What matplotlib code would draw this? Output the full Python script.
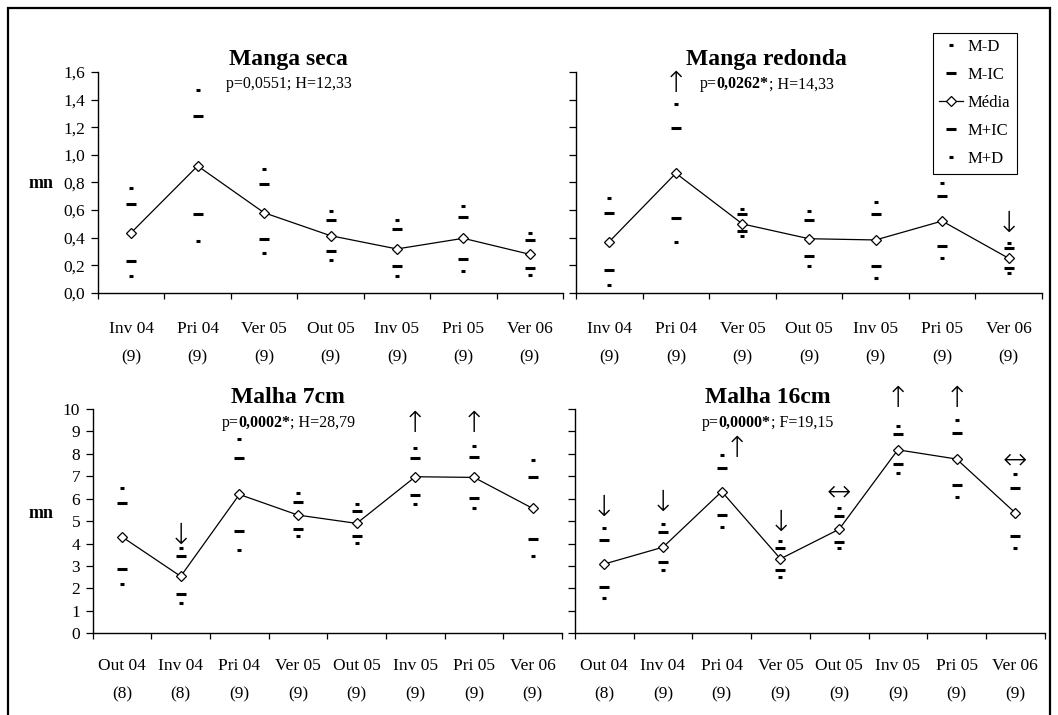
import matplotlib
matplotlib.use("Agg")
import matplotlib.pyplot as plt
from matplotlib.patches import Rectangle
from matplotlib.offsetbox import TextArea, HPacker, AnnotationBbox

plt.rcParams['font.family'] = ['Liberation Serif', 'DejaVu Serif']

# --- dados: media, intervalo de confianca (IC) e desvio (D) ---
manga_periodos = ["Inv 04", "Pri 04", "Ver 05", "Out 05", "Inv 05", "Pri 05", "Ver 06"]
manga_n = [9, 9, 9, 9, 9, 9, 9]

seca_media = [0.437, 0.92, 0.581, 0.415, 0.319, 0.396, 0.28]
seca_ic_sup = [0.644, 1.28, 0.79, 0.529, 0.463, 0.553, 0.384]
seca_ic_inf = [0.232, 0.572, 0.391, 0.304, 0.196, 0.244, 0.179]
seca_d_sup = [0.762, 1.47, 0.898, 0.596, 0.529, 0.632, 0.434]
seca_d_inf = [0.123, 0.377, 0.287, 0.239, 0.123, 0.159, 0.13]

redonda_media = [0.372, 0.867, 0.50, 0.393, 0.384, 0.521, 0.251]
redonda_ic_sup = [0.577, 1.195, 0.572, 0.526, 0.57, 0.702, 0.324]
redonda_ic_inf = [0.166, 0.541, 0.449, 0.268, 0.198, 0.34, 0.183]
redonda_d_sup = [0.69, 1.368, 0.608, 0.594, 0.661, 0.799, 0.364]
redonda_d_inf = [0.058, 0.369, 0.415, 0.196, 0.106, 0.251, 0.143]

malha_periodos = ["Out 04", "Inv 04", "Pri 04", "Ver 05", "Out 05", "Inv 05", "Pri 05", "Ver 06"]
m7_n = [8, 8, 9, 9, 9, 9, 9, 9]
m16_n = [8, 9, 9, 9, 9, 9, 9, 9]

m7_media = [4.3, 2.54, 6.19, 5.27, 4.9, 6.98, 6.95, 5.57]
m7_ic_sup = [5.82, 3.45, 7.83, 5.86, 5.45, 7.83, 7.87, 6.98]
m7_ic_inf = [2.86, 1.73, 4.57, 4.67, 4.36, 6.17, 6.04, 4.2]
m7_d_sup = [6.46, 3.81, 8.66, 6.24, 5.76, 8.24, 8.36, 7.72]
m7_d_inf = [2.22, 1.35, 3.71, 4.34, 4.03, 5.76, 5.57, 3.45]

m16_media = [3.09, 3.84, 6.32, 3.32, 4.64, 8.18, 7.77, 5.37]
m16_ic_sup = [4.18, 4.52, 7.39, 3.82, 5.25, 8.9, 8.93, 6.49]
m16_ic_inf = [2.08, 3.2, 5.28, 2.8, 4.09, 7.54, 6.62, 4.36]
m16_d_sup = [4.69, 4.89, 7.93, 4.13, 5.58, 9.22, 9.49, 7.09]
m16_d_inf = [1.59, 2.83, 4.76, 2.53, 3.79, 7.16, 6.06, 3.79]

# setas de diferenca: (indice do periodo, simbolo, altura)
seca_setas = []
redonda_setas = [(1, "↑", 1.51), (6, "↓", 0.50)]
m7_setas = [(1, "↓", 4.36), (5, "↑", 9.35), (6, "↑", 9.35)]
m16_setas = [(0, "↓", 5.58), (1, "↓", 5.8), (2.25, "↑", 8.23), (3, "↓", 4.9),
             (4, "↔", 6.26), (5, "↑", 10.45), (6, "↑", 10.45), (7, "↔", 7.69)]

# resultado do teste: partes (texto, negrito)
seca_teste = [("p=0,0551; H=12,33", False)]
redonda_teste = [("p=", False), ("0,0262*", True), ("; H=14,33", False)]
m7_teste = [("p=", False), ("0,0002*", True), ("; H=28,79", False)]
m16_teste = [("p=", False), ("0,0000*", True), ("; F=19,15", False)]

W, H = 1058, 715
fig = plt.figure(figsize=(W / 100, H / 100), dpi=100)


def px_axes(x0, y0, x1, y1):
    return fig.add_axes([x0 / W, 1 - y1 / H, (x1 - x0) / W, (y1 - y0) / H])


def painel(ax, periodos, n, media, ic_sup, ic_inf, d_sup, d_inf, setas,
           titulo, teste, ylim, yticks, ylabels, tx, ty_tit, ty_p, xpad):
    x = list(range(len(periodos)))
    ax.plot(x, d_inf, ls='none', marker='_', ms=3.0, mew=2.2, color='k', label='M-D')
    ax.plot(x, ic_inf, ls='none', marker='_', ms=7.2, mew=2.2, color='k', label='M-IC')
    ax.plot(x, media, color='k', lw=0.9, marker='D', ms=5, mfc='white', mec='k',
            mew=0.9, label='Média')
    ax.plot(x, ic_sup, ls='none', marker='_', ms=7.2, mew=2.2, color='k', label='M+IC')
    ax.plot(x, d_sup, ls='none', marker='_', ms=3.0, mew=2.2, color='k', label='M+D')

    for xi, s, yv in setas:
        ax.text(xi, yv, s, ha='center', va='center', fontsize=21, clip_on=False,
                family=['DejaVu Sans'], fontweight='light')

    ax.set_xlim(-0.5, len(periodos) - 0.5)
    ax.set_ylim(*ylim)
    ax.set_xticks([i - 0.5 for i in range(len(periodos) + 1)])
    ax.set_xticklabels([])
    ax.set_xticks(x, minor=True)
    ax.set_xticklabels([f"{p}\n({k})" for p, k in zip(periodos, n)], minor=True,
                       fontsize=12.5, linespacing=2.05)
    ax.tick_params(axis='x', which='major', direction='out', length=4, width=0.9)
    ax.tick_params(axis='x', which='minor', length=0, pad=xpad)
    ax.set_yticks(yticks)
    if ylabels:
        ax.set_yticklabels(ylabels, fontsize=12.5)
    else:
        ax.set_yticklabels([])
    ax.tick_params(axis='y', direction='out', length=5, width=0.9, pad=4)
    for side in ('top', 'right'):
        ax.spines[side].set_visible(False)
    for side in ('left', 'bottom'):
        ax.spines[side].set_linewidth(1.0)

    ax.text(tx, ty_tit, titulo, transform=ax.transAxes, ha='center', va='center',
            fontsize=17, fontweight='bold')
    partes = [TextArea(t, textprops=dict(fontsize=11.5,
                                         fontweight='bold' if b else 'normal'))
              for t, b in teste]
    caixa = HPacker(children=partes, align='baseline', pad=0, sep=0)
    ab = AnnotationBbox(caixa, (tx, ty_p), xycoords='axes fraction',
                        box_alignment=(0.5, 0.5), frameon=False, pad=0)
    ax.add_artist(ab)


yt_manga = [0.0, 0.2, 0.4, 0.6, 0.8, 1.0, 1.2, 1.4, 1.6]
yl_manga = [f"{v:.1f}".replace('.', ',') for v in yt_manga]
yt_malha = list(range(0, 11))
yl_malha = [str(v) for v in yt_malha]

ax1 = px_axes(98, 72, 563, 293)
painel(ax1, manga_periodos, manga_n, seca_media, seca_ic_sup, seca_ic_inf,
       seca_d_sup, seca_d_inf, seca_setas, "Manga seca", seca_teste,
       (0, 1.6), yt_manga, yl_manga, 0.41, 1.055, 0.945, 20)

ax2 = px_axes(576, 72, 1042, 293)
painel(ax2, manga_periodos, manga_n, redonda_media, redonda_ic_sup, redonda_ic_inf,
       redonda_d_sup, redonda_d_inf, redonda_setas, "Manga redonda", redonda_teste,
       (0, 1.6), yt_manga, None, 0.409, 1.055, 0.945, 20)

ax3 = px_axes(92.7, 409, 562, 633.3)
painel(ax3, malha_periodos, m7_n, m7_media, m7_ic_sup, m7_ic_inf,
       m7_d_sup, m7_d_inf, m7_setas, "Malha 7cm", m7_teste,
       (0, 10), yt_malha, yl_malha, 0.417, 1.05, 0.938, 17.5)

ax4 = px_axes(575, 409, 1044.6, 633.3)
painel(ax4, malha_periodos, m16_n, m16_media, m16_ic_sup, m16_ic_inf,
       m16_d_sup, m16_d_inf, m16_setas, "Malha 16cm", m16_teste,
       (0, 10), yt_malha, None, 0.41, 1.05, 0.938, 17.5)

fig.text(41 / W, 1 - 184 / H, "mn", ha='center', va='center', fontsize=13, fontweight='bold')
fig.text(41 / W, 1 - 513 / H, "mn", ha='center', va='center', fontsize=13, fontweight='bold')

# legenda
handles, labels = ax1.get_legend_handles_labels()
leg = fig.legend(handles, labels, loc='upper left', bbox_to_anchor=(933 / W, 1 - 33 / H),
                 frameon=True, fancybox=False, edgecolor='k', framealpha=1,
                 fontsize=12, handlelength=1.4, labelspacing=0.72, borderpad=0.38,
                 handletextpad=0.3, borderaxespad=0)
leg.get_frame().set_linewidth(0.8)

# moldura externa
fig.patches.append(Rectangle((8 / W, -0.05), (1050 - 8) / W, 1 - 8 / H + 0.05,
                             transform=fig.transFigure, fill=False, lw=1.6,
                             edgecolor='k', figure=fig))

fig.savefig("out.png", dpi=100)
